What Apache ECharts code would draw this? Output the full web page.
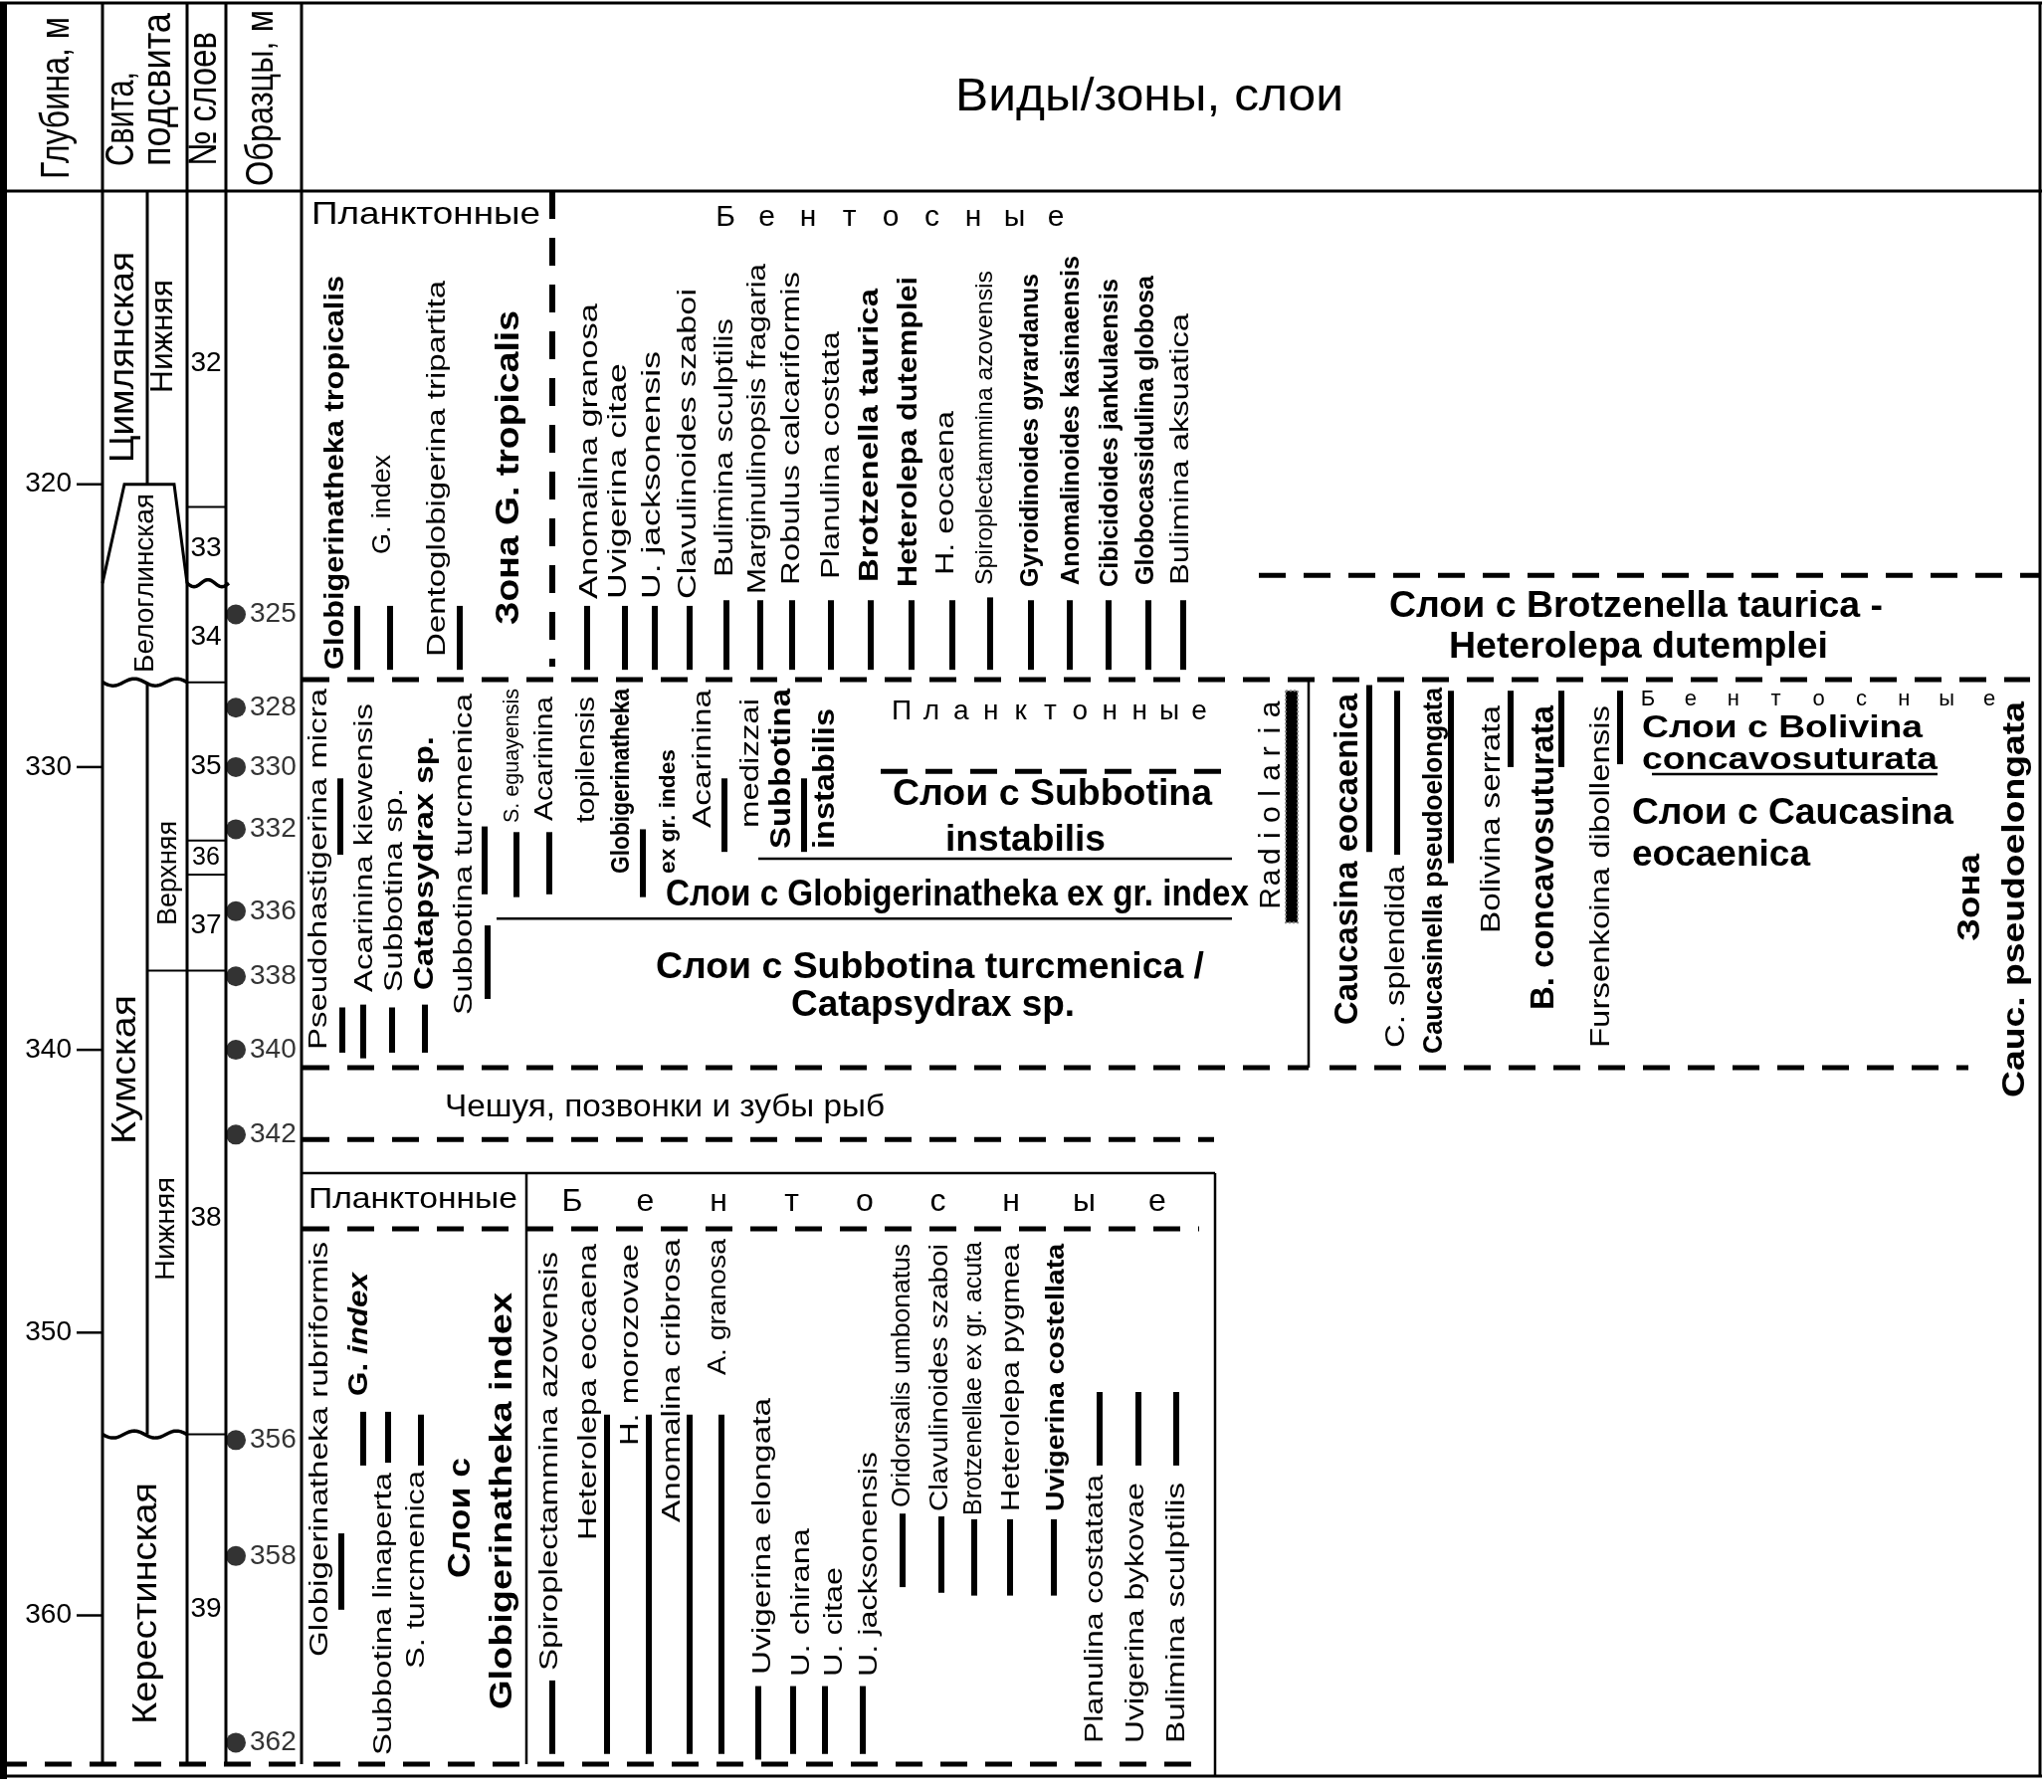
<!DOCTYPE html>
<html>
<head>
<meta charset="utf-8">
<script src="https://cdn.jsdelivr.net/npm/echarts@6.0.0/dist/echarts.min.js"></script>
<style>
  html, body { margin: 0; padding: 0; background: #fff; }
  #chart { width: 2054px; height: 1801px; }
</style>
</head>
<body>
<div id="chart"></div>
<script>
// ---------- data (depths in metres) ----------
var depthTicks = [320, 330, 340, 350, 360];

var sampleNames = ['325', '328', '330', '332', '336', '338', '340', '342', '356', '358', '362'];
var sampleDepths = [324.6, 327.9, 330.0, 332.2, 335.1, 337.4, 340.0, 343.0, 353.8, 357.9, 364.5];

var layerNames = ['32', '33', '34', '35', '36', '37', '38', '39'];
var layerTops = [309.63, 320.8, 323.5, 327.0, 332.6, 333.8, 337.2, 353.6];
var layerBases = [320.8, 323.5, 327.0, 332.6, 333.8, 337.2, 353.6, 365.26];

var suiteNames = ['Цимлянская', 'Белоглинская', 'Кумская', 'Керестинская'];
var suiteTops = [309.63, 320.0, 327.0, 353.6];
var suiteBases = [323.5, 327.0, 353.6, 365.26];

var subsuiteNames = ['Нижняя', 'Верхняя', 'Нижняя'];
var subsuiteTops = [309.63, 327.0, 337.2];
var subsuiteBases = [320.0, 337.2, 353.6];

// assemblage of sample 325
var upperSpecies = ['Globigerinatheka tropicalis', 'G. index', 'Dentoglobigerina tripartita',
  'Anomalina granosa', 'Uvigerina citae', 'U. jacksonensis', 'Clavulinoides szaboi',
  'Bulimina sculptilis', 'Marginulinopsis fragaria', 'Robulus calcariformis', 'Planulina costata',
  'Brotzenella taurica', 'Heterolepa dutemplei', 'H. eocaena', 'Spiroplectammina azovensis',
  'Gyroidinoides gyrardanus', 'Anomalinoides kasinaensis', 'Cibicidoides jankulaensis',
  'Globocassidulina globosa', 'Bulimina aksuatica'];
var upperTops = [324.3, 324.3, 324.3, 324.3, 324.3, 324.3, 324.3, 324.1, 324.1, 324.1, 324.1,
  324.1, 324.1, 324.1, 324.0, 324.1, 324.1, 324.1, 324.1, 324.1];
var upperBases = [326.56, 326.56, 326.56, 326.56, 326.56, 326.56, 326.56, 326.56, 326.56, 326.56, 326.56,
  326.56, 326.56, 326.56, 326.56, 326.56, 326.56, 326.56, 326.56, 326.56];

// Kuma planktonic ranges (+ Radiolaria)
var midPlanktonSpecies = ['Pseudohastigerina micra', 'Pseudohastigerina micra', 'Acarinina kiewensis',
  'Subbotina sp.', 'Catapsydrax sp.', 'Subbotina turcmenica', 'Subbotina turcmenica', 'S. eguayensis',
  'Acarinina topilensis', 'Globigerinatheka ex gr. indes', 'Acarinina medizzai', 'Subbotina instabilis',
  'Radiolaria'];
var midPlanktonTops = [330.4, 338.5, 338.4, 338.5, 338.4, 332.1, 335.6, 332.3, 332.3, 332.2, 330.4, 330.4, 327.3];
var midPlanktonBases = [333.1, 340.1, 340.3, 340.1, 340.1, 334.5, 338.2, 334.6, 334.5, 334.6, 333.0, 333.0, 335.5];

// Kuma benthic ranges
var midBenthosSpecies = ['Caucasina eocaenica', 'C. splendida', 'Caucasinella pseudoelongata',
  'Bolivina serrata', 'B. concavosuturata', 'Fursenkoina dibollensis'];
var midBenthosTops = [327.1, 327.3, 327.3, 327.3, 327.3, 327.3];
var midBenthosBases = [333.0, 333.1, 333.4, 330.0, 330.0, 329.9];

// lower Kuma / Kerestin ranges
var lowerSpecies = ['Globigerinatheka rubriformis', 'G. index', 'Subbotina linaperta', 'S. turcmenica',
  'Spiroplectammina azovensis', 'Heterolepa eocaena', 'H. morozovae', 'Anomalina cribrosa', 'A. granosa',
  'Uvigerina elongata', 'U. chirana', 'U. citae', 'U. jacksonensis', 'Oridorsalis umbonatus',
  'Clavulinoides szaboi', 'Brotzenellae ex gr. acuta', 'Heterolepa pygmea', 'Uvigerina costellata',
  'Planulina costatata', 'Uvigerina bykovae', 'Bulimina sculptilis'];
var lowerTops = [357.1, 352.8, 352.8, 352.9, 362.3, 352.9, 352.9, 352.9, 352.9, 362.5, 362.5, 362.5, 362.5,
  356.4, 356.5, 356.6, 356.6, 356.6, 352.1, 352.1, 352.1];
var lowerBases = [359.8, 354.7, 354.6, 354.7, 364.9, 364.9, 364.9, 364.9, 364.9, 365.1, 364.9, 364.9, 364.9,
  359.0, 359.2, 359.3, 359.3, 359.3, 354.7, 354.7, 354.7];

// bed / zone boundaries in the species panel
var bedLineDepths = [323.22, 326.91, 330.15, 333.24, 335.36, 340.63, 340.63, 343.17, 344.36, 346.33, 365.26];
var zoneEdgeTops = [309.63, 326.91, 344.36, 344.36];
var zoneEdgeBases = [326.45, 340.63, 365.26, 365.69];

// ---------- layout ----------
var FONT = '"Liberation Sans", Arial, Helvetica, sans-serif';
var upperBarX = [359, 392, 462, 590, 628, 658, 693, 730, 764, 796, 835, 875, 916, 957, 995, 1036, 1075, 1114, 1154, 1189];
var midPlanktonBarX = [342, 344, 365, 394, 427, 487, 490, 519, 552, 646, 728, 808, 1298];
var midBenthosBarX = [1376, 1404, 1458, 1518, 1569, 1628];
var lowerBarX = [343, 365, 390, 423, 555, 610, 652, 693, 725, 762, 797, 829, 867, 907, 946, 979, 1015, 1059, 1105, 1144, 1182];
var layerLineKind = ['solid', 'wave', 'solid', 'solid', 'solid', 'solid', 'solid', null];
var layerLineX0 = [188, 188, 188, 188, 188, 148, 188, 188];
var layerLabelShift = [15, 3, 4, 5, 0, 3, 16, 10];
var bedLineLayout = [
  [1265, 2050, 'dash'], [304, 2040, 'dash'], [885, 1238, 'dash'], [762, 1238, 'solid'],
  [499, 1238, 'solid'], [304, 1315, 'dash'], [1336, 1978, 'dash'], [304, 1220, 'dash'],
  [304, 1221, 'solid'], [304, 1205, 'dash'], [0, 1215, 'dash']
];
var zoneEdgeLayout = [[555, 'dash'], [1315, 'solid'], [529, 'solid'], [1221, 'solid']];

var measureCtx = document.createElement('canvas').getContext('2d');
function fontStr(fs, weight, style) {
  return (style || 'normal') + ' ' + (weight || 'normal') + ' ' + fs + 'px ' + FONT;
}
function textWidth(s, fs, weight, style) {
  measureCtx.font = fontStr(fs, weight, style);
  return measureCtx.measureText(s).width;
}
function txt(s, x, y, fs, opt) {
  opt = opt || {};
  return {
    type: 'text', x: x, y: y, rotation: opt.rot || 0, scaleX: opt.sx || 1, silent: true,
    style: {
      text: s, font: fontStr(fs, opt.weight, opt.style), fill: '#000',
      align: opt.align || 'left', verticalAlign: 'middle',
      textAlign: opt.align || 'left', textVerticalAlign: 'middle'
    }
  };
}
// label reading upwards from y0 (bottom) to y1 (top)
function vLabel(s, x, y0, y1, fs, weight, style) {
  var sx = (y0 - y1) / textWidth(s, fs, weight, style);
  return txt(s, x, y0, fs, { rot: Math.PI / 2, sx: sx, weight: weight, style: style });
}
function vLabelParts(parts, x, y0, y1, fs) {
  var widths = parts.map(function (p) { return textWidth(p[0], fs, p[1], p[2]); });
  var total = widths.reduce(function (a, b) { return a + b; }, 0);
  var sx = (y0 - y1) / total, y = y0, out = [];
  parts.forEach(function (p, i) {
    out.push(txt(p[0], x, y, fs, { rot: Math.PI / 2, sx: sx, weight: p[1], style: p[2] }));
    y -= widths[i] * sx;
  });
  return out;
}
function hLabel(s, x0, x1, y, fs, weight) {
  var sx = (x1 - x0) / textWidth(s, fs, weight);
  return txt(s, (x0 + x1) / 2, y, fs, { align: 'center', sx: sx, weight: weight });
}
function spaced(s, a, b, pos, fs, vertical) {
  var out = [];
  for (var i = 0; i < s.length; i++) {
    var p = a + (b - a) * i / (s.length - 1);
    if (vertical) out.push(txt(s[i], pos, p, fs, { align: 'center', rot: Math.PI / 2 }));
    else out.push(txt(s[i], p, pos, fs, { align: 'center' }));
  }
  return out;
}
function gline(x1, y1, x2, y2, w, dash) {
  return { type: 'line', silent: true, shape: { x1: x1, y1: y1, x2: x2, y2: y2 },
    style: { stroke: '#000', lineWidth: w, lineDash: dash || null } };
}

// label tables: [text, x, bottom y, top y, font size, weight]
var headerLabels = [
  ['Глубина, м', 58, 180, 17, 41], ['Свита,', 123, 167, 72, 40], ['подсвита', 160, 167, 13, 40],
  ['№ слоев', 206, 167, 32, 40], ['Образцы, м', 264, 187, 10, 38]
];
var suiteLabels = [
  [suiteNames[0], 124, 465, 253, 35], [subsuiteNames[0], 164, 395, 281, 31],
  [suiteNames[1], 146, 676, 496, 28], [suiteNames[2], 126, 1150, 1000, 35],
  [subsuiteNames[1], 169, 930, 825, 28], [subsuiteNames[2], 167, 1287, 1183, 28],
  [suiteNames[3], 147, 1733, 1490, 35]
];
var upperLabels = [
  [upperSpecies[0], 338, 673, 277, 27, 'bold'], [upperSpecies[1], 385, 557, 457, 26],
  [upperSpecies[2], 440, 660, 282, 26], ['Зона G. tropicalis', 512, 628, 312, 34, 'bold'],
  [upperSpecies[3], 593, 602, 305, 26], [upperSpecies[4], 622, 602, 365, 26],
  [upperSpecies[5], 656, 602, 353, 26], [upperSpecies[6], 692, 602, 290, 26],
  [upperSpecies[7], 729, 580, 320, 26], [upperSpecies[8], 762, 597, 265, 26],
  [upperSpecies[9], 796, 588, 273, 26], [upperSpecies[10], 836, 582, 333, 26],
  [upperSpecies[11], 875, 585, 290, 27, 'bold'], [upperSpecies[12], 914, 590, 278, 27, 'bold'],
  [upperSpecies[13], 951, 578, 413, 26], [upperSpecies[14], 990, 588, 272, 24],
  [upperSpecies[15], 1036, 590, 275, 26, 'bold'], [upperSpecies[16], 1077, 588, 257, 26, 'bold'],
  [upperSpecies[17], 1116, 590, 280, 26, 'bold'], [upperSpecies[18], 1152, 588, 277, 26, 'bold'],
  [upperSpecies[19], 1187, 588, 315, 26]
];
var midLabels = [
  ['Pseudohastigerina micra', 321, 1055, 692, 26], ['Acarinina kiewensis', 367, 997, 707, 26],
  ['Subbotina sp.', 397, 997, 792, 26], ['Catapsydrax sp.', 427, 995, 740, 28, 'bold'],
  ['Subbotina turcmenica', 467, 1020, 697, 26], ['S. eguayensis', 515, 827, 692, 22],
  ['Acarinina', 548, 825, 700, 26], ['topilensis', 590, 827, 700, 26],
  ['Globigerinatheka', 625, 878, 692, 25, 'bold'], ['ex gr. indes', 672, 878, 753, 22, 'bold'],
  ['Acarinina', 707, 832, 693, 26], ['medizzai', 755, 832, 702, 26],
  ['Subbotina', 786, 853, 692, 29, 'bold'], ['instabilis', 830, 853, 712, 29, 'bold'],
  ['Caucasina eocaenica', 1355, 1030, 697, 34, 'bold'], ['C. splendida', 1404, 1053, 870, 27],
  ['Caucasinella pseudoelongata', 1441, 1059, 691, 28, 'bold'], ['Bolivina serrata', 1500, 938, 709, 27],
  ['B. concavosuturata', 1552, 1015, 709, 34, 'bold'], ['Fursenkoina dibollensis', 1610, 1053, 709, 27],
  ['Зона', 1980, 946, 858, 32, 'bold'], ['Cauc. pseudoelongata', 2025, 1103, 705, 32, 'bold']
];
var lowerLabels = [
  ['Globigerinatheka rubriformis', 322, 1665, 1248, 26], ['Subbotina linaperta', 386, 1764, 1480, 26],
  ['S. turcmenica', 419, 1677, 1478, 26], ['Слои с', 463, 1586, 1465, 32, 'bold'],
  ['Globigerinatheka index', 505, 1718, 1299, 32, 'bold'],
  ['Spiroplectammina azovensis', 553, 1679, 1258, 26], ['Heterolepa eocaena', 592, 1548, 1250, 26],
  ['H. morozovae', 634, 1453, 1250, 26], ['Anomalina cribrosa', 676, 1530, 1245, 26],
  ['A. granosa', 722, 1382, 1245, 26], ['Uvigerina elongata', 767, 1683, 1405, 26],
  ['U. chirana', 806, 1685, 1536, 26], ['U. citae', 839, 1685, 1575, 26],
  ['U. jacksonensis', 874, 1685, 1459, 26], ['Oridorsalis umbonatus', 907, 1515, 1250, 25],
  ['Clavulinoides szaboi', 945, 1519, 1250, 25], ['Brotzenellae ex gr. acuta', 979, 1523, 1248, 25],
  ['Heterolepa pygmea', 1017, 1519, 1250, 25], ['Uvigerina costellata', 1062, 1519, 1250, 26, 'bold'],
  ['Planulina costatata', 1101, 1752, 1482, 26], ['Uvigerina bykovae', 1142, 1752, 1490, 26],
  ['Bulimina sculptilis', 1183, 1752, 1490, 26]
];
// horizontal labels: [text, x0, x1, y, font size, weight]
var hLabels = [
  ['Виды/зоны, слои', 960, 1350, 98, 47],
  ['Планктонные', 313, 543, 216, 32],
  ['Слои с Brotzenella taurica -', 1396, 1892, 610, 36, 'bold'],
  ['Heterolepa dutemplei', 1456, 1837, 651, 36, 'bold'],
  ['Слои с Subbotina', 897, 1218, 799, 36, 'bold'],
  ['instabilis', 950, 1111, 845, 36, 'bold'],
  ['Слои с Globigerinatheka ex gr. index', 669, 1255, 900, 36, 'bold'],
  ['Слои с Subbotina turcmenica /', 659, 1210, 973, 36, 'bold'],
  ['Catapsydrax sp.', 795, 1080, 1011, 36, 'bold'],
  ['Слои с Bolivina', 1650, 1932, 732, 32, 'bold'],
  ['concavosuturata', 1650, 1947, 764, 32, 'bold'],
  ['Слои с Caucasina', 1640, 1963, 818, 37, 'bold'],
  ['eocaenica', 1640, 1819, 860, 37, 'bold'],
  ['Чешуя, позвонки и зубы рыб', 447, 889, 1113, 31],
  ['Планктонные', 310, 520, 1206, 30]
];

var graphics = [];
// frame and column rules
graphics.push(gline(0, 3, 2052, 3, 3), gline(0, 192, 2052, 192, 3), gline(2050, 3, 2050, 1786, 3),
  gline(0, 1785, 2052, 1785, 3), gline(3.5, 2, 3.5, 1788, 7));
[103, 188, 227, 303].forEach(function (x) { graphics.push(gline(x, 3, x, 1773, 3)); });
graphics.push(gline(1660, 778, 1947, 778, 2.5));

headerLabels.concat(suiteLabels, upperLabels, midLabels, lowerLabels).forEach(function (l) {
  graphics.push(vLabel(l[0], l[1], l[2], l[3], l[4], l[5]));
});
graphics = graphics.concat(vLabelParts([['G. ', 'bold'], ['index', 'bold', 'italic']], 362, 1403, 1279, 27));
hLabels.forEach(function (l) { graphics.push(hLabel(l[0], l[1], l[2], l[3], l[4], l[5])); });
graphics = graphics.concat(
  spaced('Бентосные', 729, 1061, 219, 30),
  spaced('Планктонные', 906, 1205, 715, 28),
  spaced('Бентосные', 1656, 1999, 703, 22),
  spaced('Бентосные', 575, 1163, 1208, 32),
  spaced('Radiolaria', 903, 713, 1278, 30, true)
);

// ---------- series ----------
function rangeSeries(name, xs, tops, bases) {
  return {
    type: 'custom', name: name, silent: true, z: 3,
    data: tops.map(function (t, i) { return [xs[i], t, bases[i]]; }),
    renderItem: function (params, api) {
      var p0 = api.coord([api.value(0), api.value(1)]);
      var p1 = api.coord([api.value(0), api.value(2)]);
      var radiolaria = name === 'midPlankton' && midPlanktonSpecies[params.dataIndex] === 'Radiolaria';
      var w = radiolaria ? 12 : 6;
      return {
        type: 'rect', shape: { x: p0[0] - w / 2, y: p0[1], width: w, height: p1[1] - p0[1] },
        style: radiolaria ? { fill: '#000', stroke: '#888', lineWidth: 2, lineDash: [2, 2] } : { fill: '#000' }
      };
    }
  };
}
function wave(x0, x1, yc, periods, amp) {
  var pts = [];
  for (var x = x0; x <= x1; x += 1) {
    pts.push([x, yc + amp * Math.sin((x - x0) / (x1 - x0) * periods * 2 * Math.PI)]);
  }
  return { type: 'polyline', shape: { points: pts }, style: { stroke: '#000', lineWidth: 3.5, fill: null } };
}
function line(x1, y1, x2, y2, w, dash) {
  return { type: 'line', shape: { x1: x1, y1: y1, x2: x2, y2: y2 },
    style: { stroke: '#000', lineWidth: w, lineDash: dash || null } };
}

var chart = echarts.init(document.getElementById('chart'));
var option = {
  animation: false,
  grid: { left: 0, right: 0, top: 192, bottom: 28, outerBoundsMode: 'none' },
  xAxis: { type: 'value', min: 0, max: 2054, show: false },
  yAxis: { type: 'value', min: 309.63, max: 365.26, inverse: true, show: false },
  graphic: { elements: graphics },
  series: [
    {
      // depth scale
      type: 'custom', silent: true,
      data: depthTicks.map(function (d) { return [103, d]; }),
      renderItem: function (params, api) {
        var p = api.coord([api.value(0), api.value(1)]);
        return { type: 'group', children: [
          line(77, p[1], p[0], p[1], 2.5),
          { type: 'text', x: 72, y: p[1], style: { text: String(api.value(1)), font: fontStr(28), fill: '#000',
            align: 'right', verticalAlign: 'middle', textAlign: 'right', textVerticalAlign: 'middle' } }
        ] };
      }
    },
    {
      // suites: Belogl. wedge, unconformities, sub-suite divider
      type: 'custom', silent: true,
      data: [[0, suiteTops[0]]],
      renderItem: function (params, api) {
        var y = function (d) { return api.coord([0, d])[1]; };
        return { type: 'group', children: [
          { type: 'polyline', shape: { points: [[103, y(suiteBases[0])], [125, y(suiteTops[1])],
            [175, y(suiteTops[1])], [188, y(suiteBases[0])]] }, style: { stroke: '#000', lineWidth: 3, fill: null } },
          wave(103, 188, y(suiteBases[1]), 2, 3.5),
          wave(103, 188, y(suiteBases[2]), 2, 3.5),
          line(148, y(subsuiteTops[0]), 148, y(subsuiteBases[0]), 3),
          line(148, y(subsuiteTops[1]), 148, y(subsuiteBases[2]), 3)
        ] };
      }
    },
    {
      // layer numbers and layer boundaries
      type: 'custom', silent: true,
      data: layerTops.map(function (t, i) { return [207, t, layerBases[i]]; }),
      renderItem: function (params, api) {
        var i = params.dataIndex;
        var mid = api.coord([api.value(0), (api.value(1) + api.value(2)) / 2]);
        var base = api.coord([api.value(0), api.value(2)])[1];
        var ch = [{ type: 'text', x: mid[0], y: mid[1] + layerLabelShift[i], style: { text: layerNames[i],
          font: fontStr(layerNames[i] === '36' ? 25 : 28), fill: '#000', align: 'center', verticalAlign: 'middle',
          textAlign: 'center', textVerticalAlign: 'middle' } }];
        if (layerLineKind[i] === 'solid') ch.push(line(layerLineX0[i], base, 227, base, 2));
        if (layerLineKind[i] === 'wave') ch.push(wave(188, 230, base, 1.5, 3.5));
        return { type: 'group', children: ch };
      }
    },
    {
      type: 'scatter', silent: true, symbol: 'circle', symbolSize: 20,
      itemStyle: { color: '#000' },
      data: sampleDepths.map(function (d) { return [237, d]; }),
      label: { show: true, position: 'right', distance: 4, color: '#000', fontSize: 28, fontFamily: FONT,
        formatter: function (p) { return sampleNames[p.dataIndex]; } }
    },
    {
      // bed / zone boundaries
      type: 'custom', silent: true,
      data: bedLineDepths.map(function (d, i) { return [bedLineLayout[i][0], d, bedLineLayout[i][1]]; }),
      renderItem: function (params, api) {
        var a = api.coord([api.value(0), api.value(1)]);
        var b = api.coord([api.value(2), api.value(1)]);
        var dash = bedLineLayout[params.dataIndex][2] === 'dash';
        return line(a[0], a[1], b[0], b[1], dash ? 5 : 2.5, dash ? [27, 18] : null);
      }
    },
    {
      type: 'custom', silent: true,
      data: zoneEdgeTops.map(function (t, i) { return [zoneEdgeLayout[i][0], t, zoneEdgeBases[i]]; }),
      renderItem: function (params, api) {
        var a = api.coord([api.value(0), api.value(1)]);
        var b = api.coord([api.value(0), api.value(2)]);
        var dash = zoneEdgeLayout[params.dataIndex][1] === 'dash';
        return line(a[0], a[1], b[0], b[1], dash ? 6 : 2.5, dash ? [28, 19] : null);
      }
    },
    rangeSeries('upper', upperBarX, upperTops, upperBases),
    rangeSeries('midPlankton', midPlanktonBarX, midPlanktonTops, midPlanktonBases),
    rangeSeries('midBenthos', midBenthosBarX, midBenthosTops, midBenthosBases),
    rangeSeries('lower', lowerBarX, lowerTops, lowerBases)
  ]
};
chart.setOption(option);
</script>
</body>
</html>
